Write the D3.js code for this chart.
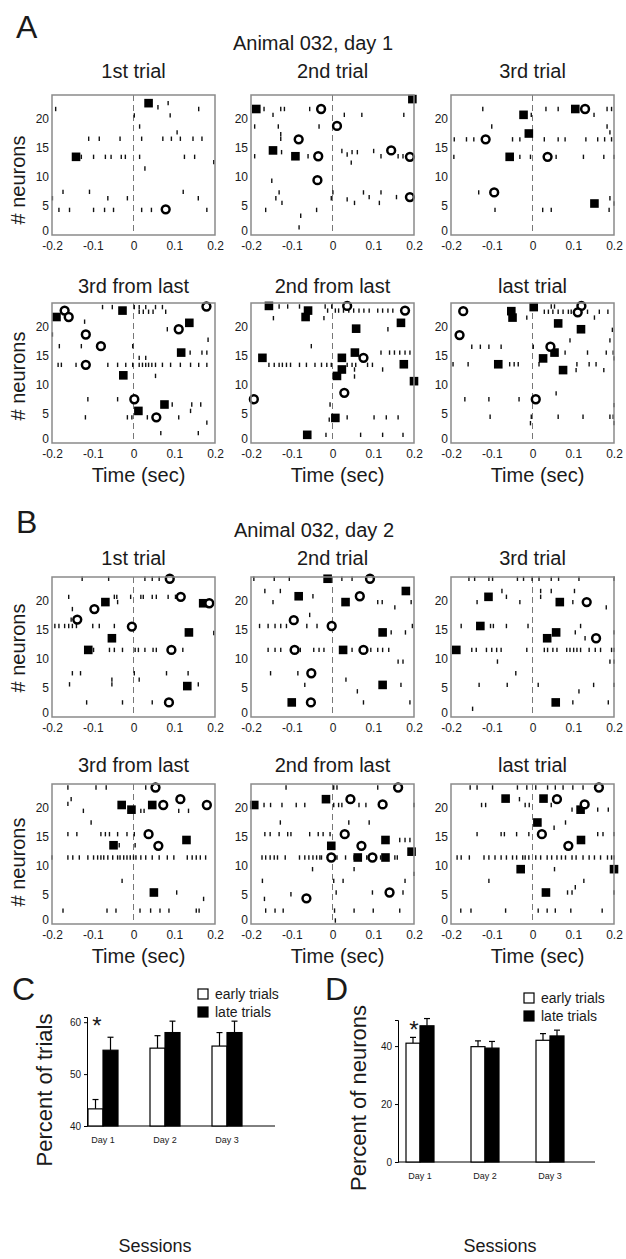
<!DOCTYPE html>
<html>
<head>
<meta charset="utf-8">
<title>Animal 032 rasters</title>
<script src="https://cdn.jsdelivr.net/npm/d3@7"></script>
<style>
body { margin: 0; background: #fff; }
svg text { font-family: "Liberation Sans", Arial, sans-serif; fill: #1a1a1a; }
</style>
</head>
<body>
<div id="chart"></div>
<script>
// ---- data ----
var timeTicks = [-0.2, -0.1, 0, 0.1, 0.2],
    neuronTicks = [0, 5, 10, 15, 20];

var titlesTop = ["1st trial", "2nd trial", "3rd trial"],
    titlesBottom = ["3rd from last", "2nd from last", "last trial"];

// spikes: [neuron, [times...]], squares / circles: [time, neuron]
var a1Spikes = [[21.6,[-0.191,0.160]],[21.9,[0.060]],[22.6,[0.085]],[20.5,[0.090,0.002]],[18.6,[0.015]],[17.6,[0.107]],
  [16.5,[-0.110,-0.084,-0.033,0.020,0.072,0.093,0.115,0.146,0.168]],
  [13.4,[-0.128,-0.098,-0.069,-0.055,-0.030,-0.020,0.015,0.125,0.150]],[12.5,[0.197]],[11.4,[0.028]],
  [7.4,[-0.173,-0.108,0.122]],[6.3,[-0.199,-0.063,-0.015,0.159]],
  [4.3,[-0.183,-0.157,-0.098,-0.071,-0.049,0.020,0.044,0.180]]];
var a1Squares = [[0.037,22.6],[-0.141,13.4]];
var a1Circles = [[0.079,4.4]];

var a2Spikes = [[21.6,[-0.168,-0.127,-0.118,-0.056]],[20.6,[-0.146,0.029,0.072,0.175]],[18.6,[-0.191,-0.133,-0.033]],
  [17.3,[-0.127]],[16.5,[-0.127]],[14.2,[-0.125,0.048,0.061]],[14.4,[0.023,0.101]],[13.8,[0.036]],
  [13.5,[-0.191,-0.060,0.119,0.161,0.173]],[12.4,[0.046]],[9.3,[-0.149]],[7.3,[-0.131,0.001,0.076,0.119]],
  [6.5,[0.090,0.157]],[6.3,[-0.139,-0.003]],[6.1,[0.036]],[5.5,[-0.124,0.054,0.115]],[4.3,[-0.164,-0.039]],
  [3.3,[-0.078]],[1.3,[-0.082]]];
var a2Squares = [[-0.187,21.6],[-0.146,14.5],[-0.091,13.5],[0.196,23.3]];
var a2Circles = [[-0.028,21.6],[0.011,18.7],[-0.083,16.4],[-0.035,13.5],[-0.037,9.4],[0.144,14.5],[0.190,13.4],[0.190,6.5]];

var a3Spikes = [[21.6,[-0.122,0.033,0.063,0.183,0.194]],[20.6,[-0.003,0.151]],[18.6,[-0.100,0.183]],[17.6,[0.190]],
  [16.4,[-0.192,-0.162,-0.144,-0.049,-0.031,0.029,0.063,0.080,0.131,0.160,0.177,0.194]],
  [13.4,[-0.193,-0.031,-0.005,0.058,0.125,0.175,0.200]],[7.3,[-0.132]],[6.3,[0.190]],[5.4,[0.200]],
  [4.3,[-0.092,0.025,0.046,0.188]]];
var a3Squares = [[-0.022,20.6],[-0.009,17.4],[-0.056,13.4],[0.105,21.6],[0.152,5.4]];
var a3Circles = [[0.129,21.6],[-0.115,16.4],[0.037,13.4],[-0.094,7.3]];

var a4Spikes = [[23.3,[-0.076,-0.052,0.002,0.014,0.030,0.054,0.071]],[22.5,[0.014,0.024,0.037,0.048,0.079]],
  [20.8,[-0.120]],[19.5,[0.083]],[18.6,[-0.199]],[17.7,[0.183]],[16.6,[-0.182,-0.128,-0.002]],
  [15.5,[0.139,0.168,0.180]],[14.6,[0.014,0.030]],
  [13.4,[-0.185,-0.177,-0.141,-0.063,-0.039,-0.019,-0.002,0.014,0.022,0.030,0.037,0.045,0.054,0.071,0.091,0.115,0.140,0.160,0.180]],
  [11.5,[0.054]],[7.5,[-0.112,-0.039]],[6.6,[0.095,0.143,0.165]],[5.5,[0.140]],
  [4.4,[-0.118,-0.015,-0.004,0.034,0.111]],[3.5,[0.180]],[1.7,[0.067,0.159]]];
var a4Squares = [[-0.189,21.6],[-0.027,22.7],[0.137,20.6],[0.117,15.5],[-0.025,11.6],[0.012,5.5],[0.076,6.6]];
var a4Circles = [[-0.169,22.7],[-0.159,21.6],[0.179,23.4],[0.111,19.5],[-0.117,18.6],[-0.080,16.6],[-0.117,13.4],[0.002,7.5],[0.056,4.4]];

var a5Spikes = [[23.4,[-0.131,-0.110,-0.081,-0.018,-0.002]],
  [22.7,[-0.012,0.007,0.015,0.027,0.040,0.052,0.065,0.077,0.090,0.111,0.123,0.136,0.148]],
  [21.4,[-0.145,-0.021]],[19.5,[0.136]],[16.6,[-0.052]],[15.5,[0.119,0.140,0.152,0.165,0.178,0.190]],
  [13.4,[-0.156,-0.143,-0.131,-0.123,-0.113,-0.103,-0.081,-0.064,-0.043,-0.027,-0.014,-0.003,0.036,0.048,0.057,0.086,0.098]],
  [12.6,[0.054,0.123]],[11.4,[0.054]],[6.6,[-0.006]],[4.4,[0.036,0.102,0.132,0.161]],[4.0,[-0.008]],
  [1.4,[-0.016,0.069,0.123,0.173]]];
var a5Squares = [[-0.156,23.5],[-0.060,22.7],[-0.066,21.6],[0.058,19.6],[0.168,20.6],[-0.172,14.6],[0.055,15.5],
  [0.023,14.6],[0.023,12.6],[0.011,11.5],[0.200,10.6],[0.007,4.3],[-0.062,1.4],[0.175,13.5]];
var a5Circles = [[0.036,23.5],[0.178,22.7],[0.076,14.6],[0.029,8.6],[-0.193,7.5]];

var a6Spikes = [[23.4,[0.046,0.054]],[22.5,[0.029,0.039,0.050,0.063,0.075,0.088,0.095,0.105,0.135,0.164,0.185]],
  [21.5,[-0.014,0.152]],[19.4,[0.196]],[17.6,[0.092,0.190]],[16.5,[-0.149,-0.128,-0.107,-0.077,0.002]],
  [15.5,[0.080,0.135,0.181,0.198]],[14.5,[0.200]],
  [13.5,[-0.195,-0.158,-0.056,-0.045,-0.035,0.016,0.109,0.139,0.156]],[12.5,[0.107,0.175]],[8.5,[0.058]],
  [7.5,[-0.166,-0.107,-0.033]],[6.5,[0.200]],[4.5,[-0.104,-0.003,0.063,0.124,0.190,0.198]],[3.4,[-0.005,0.200]]];
var a6Squares = [[0.003,23.3],[-0.052,22.6],[-0.049,21.5],[0.063,20.5],[0.119,19.5],[0.026,14.5],[0.054,15.5],[-0.084,13.5],[0.075,12.5]];
var a6Circles = [[-0.170,22.6],[-0.179,18.5],[0.120,23.5],[0.111,22.4],[0.044,16.5],[0.008,7.5]];

var b1Spikes = [[23.7,[-0.126,-0.061,0.028,0.046,0.063]],
  [20.6,[-0.159,-0.047,-0.041,-0.007,0.018,0.024,0.046,0.056,0.085,0.103]],[19.7,[-0.039]],[18.5,[-0.150]],
  [16.7,[-0.153]],[15.6,[-0.193,-0.183,-0.169,-0.159,-0.150,-0.140,-0.100,-0.084,-0.047]],[14.4,[0.197]],
  [11.5,[-0.098,-0.059,-0.047,-0.027,0.004,0.012,0.028,0.048,0.056,0.121]],
  [7.5,[-0.150,-0.130,0.002,0.081,0.134]],[6.4,[-0.053,0.014]],[5.6,[-0.157,-0.053,0.159]],[2.5,[-0.115,-0.027,0.046]]];
var b1Squares = [[-0.069,19.7],[-0.053,13.5],[-0.111,11.5],[0.136,14.5],[0.132,5.3],[0.171,19.5]];
var b1Circles = [[0.089,23.7],[0.116,20.6],[-0.096,18.5],[-0.138,16.7],[-0.004,15.5],[0.093,11.5],[0.087,2.5],[0.186,19.5]];

var b2Spikes = [[23.7,[-0.193,-0.143,-0.106,0.023,0.048]],[21.6,[-0.166,-0.128]],[20.7,[-0.048]],
  [19.7,[-0.146,0.111,0.122,0.193]],[18.8,[0.153]],[17.5,[-0.056]],
  [15.6,[-0.179,-0.158,-0.141,-0.127,-0.113,-0.063,-0.038,0.196]],[14.5,[0.144,0.179]],
  [11.5,[-0.158,-0.141,-0.127,-0.079,-0.046,-0.033,-0.021,0.048,0.094,0.111,0.123,0.138]],
  [9.5,[0.161,0.173]],[7.5,[-0.152,-0.085]],[6.4,[0.033]],[5.5,[-0.068,0.168]],[4.4,[0.061]],[2.5,[0.076,0.190]]];
var b2Squares = [[-0.012,23.7],[-0.083,20.7],[0.032,19.7],[0.180,21.6],[0.123,14.5],[0.026,11.5],[0.123,5.5],[-0.100,2.5]];
var b2Circles = [[0.092,23.7],[0.067,20.7],[-0.095,16.6],[-0.002,15.6],[-0.093,11.5],[0.076,11.5],[-0.052,7.5],[-0.053,2.5]];

var b3Spikes = [[23.7,[-0.156,-0.142,-0.107,-0.098,-0.037,-0.022,-0.001,0.016,0.046,0.064,0.114,0.200]],
  [21.6,[-0.075,0.020,0.046,0.103]],[20.6,[-0.064,0.020]],[19.7,[-0.136,-0.031,0.099]],[18.8,[0.181]],
  [15.6,[-0.175,-0.103,-0.096,-0.064,-0.011,0.118]],[14.5,[0.105,0.200]],[13.5,[0.129]],
  [11.5,[-0.149,-0.138,-0.113,-0.100,-0.088,-0.077,-0.014,0.029,0.037,0.050,0.060,0.084,0.092,0.101,0.109,0.118,0.139,0.154,0.167,0.194,0.200]],
  [9.5,[-0.086,0.190,0.200]],[7.5,[-0.041]],[5.5,[-0.131,-0.062,0.014,0.150,0.200]],[4.4,[0.114]],
  [2.5,[0.099,0.186]],[1.4,[-0.147]]];
var b3Squares = [[-0.187,11.5],[-0.108,20.6],[-0.128,15.6],[0.067,19.7],[0.058,14.5],[0.036,13.5],[0.057,2.5]];
var b3Circles = [[0.133,19.7],[0.156,13.5]];

var b4Spikes = [[23.4,[-0.161,-0.092,-0.067,0.030,0.046]],[21.4,[-0.153]],[20.6,[-0.161]],
  [19.4,[-0.123,0.018,0.026,0.111,0.135]],[17.4,[-0.104]],
  [15.4,[-0.161,-0.139,-0.080,-0.069,-0.059,-0.039,-0.016,0.002]],[13.5,[-0.035,0.004]],
  [11.4,[-0.200,-0.161,-0.149,-0.133,-0.112,-0.098,-0.088,-0.080,-0.073,-0.063,-0.051,-0.039,-0.033,-0.024,-0.016,-0.008,0.000,0.006,0.018,0.030,0.046,0.063,0.083,0.099,0.132,0.144,0.154,0.164,0.177]],
  [7.4,[-0.028]],[5.4,[0.106]],[4.3,[0.172]],[2.3,[-0.173,-0.065,-0.043,0.016,0.042,0.065,0.087,0.154,0.161]]];
var b4Squares = [[-0.029,20.4],[-0.005,19.6],[0.046,20.4],[-0.049,13.5],[0.130,14.4],[0.050,5.4]];
var b4Circles = [[0.054,23.4],[0.073,20.4],[0.115,21.4],[0.180,20.4],[0.037,15.4],[0.061,13.4]];

var b5Spikes = [[23.4,[-0.114,0.003,0.011,0.111]],
  [20.4,[-0.168,-0.152,-0.124,-0.089,-0.068,0.003,0.015,0.023,0.065,0.082,0.200]],[17.4,[-0.128,0.040,0.090]],
  [15.4,[-0.166,-0.153,-0.131,-0.110,-0.102,-0.056,-0.035,-0.023,-0.006]],[14.4,[0.165,0.178,0.190]],
  [11.4,[-0.173,-0.164,-0.153,-0.143,-0.135,-0.116,-0.081,-0.068,-0.058,-0.048,-0.039,-0.031,-0.027,0.011,0.032,0.053,0.084,0.118,0.153,0.159]],
  [9.4,[-0.049,0.053]],[8.6,[0.200]],[7.4,[-0.172,0.003,0.026,0.178]],[5.4,[0.009,0.098,0.173]],[5.1,[-0.102]],
  [4.3,[-0.167]],[2.3,[-0.164,-0.141,-0.121,0.005,0.053,0.100,0.165]],[0.6,[0.007]]];
var b5Squares = [[-0.192,20.4],[-0.016,21.4],[-0.003,13.4],[0.062,11.4],[0.130,11.4],[0.130,14.4],[0.194,12.4]];
var b5Circles = [[0.044,21.4],[0.123,20.5],[0.161,23.4],[0.030,15.4],[0.071,13.4],[-0.003,11.4],[0.098,11.4],[0.140,5.4],[-0.064,4.4]];

var b6Spikes = [[23.4,[-0.153,-0.136,-0.098,-0.037,-0.014,0.008,0.037,0.056,0.075,0.099,0.124]],[21.4,[-0.032]],
  [20.4,[-0.125,-0.115,-0.018,-0.008,0.046]],[19.6,[0.097,0.160,0.186]],[17.4,[0.081]],[16.5,[0.053]],
  [15.4,[-0.136,-0.077,-0.069,-0.039,-0.009,0.160,0.173,0.200]],
  [11.4,[-0.185,-0.175,-0.155,-0.119,-0.107,-0.092,-0.077,-0.064,-0.049,-0.039,-0.024,-0.018,-0.009,0.008,0.020,0.036,0.047,0.060,0.071,0.081,0.097,0.107,0.124,0.139,0.152,0.167,0.184,0.194,0.200]],
  [9.4,[0.054]],[7.4,[-0.107,0.126]],[6.3,[0.105]],[5.4,[0.086,0.097,0.200]],
  [2.3,[-0.176,-0.151,-0.066,0.014,0.036,0.056,0.094,0.171]]];
var b6Squares = [[-0.066,21.5],[0.027,21.5],[0.118,19.6],[0.012,17.4],[0.119,14.4],[-0.029,9.4],[0.033,5.4],[0.200,9.4]];
var b6Circles = [[0.163,23.4],[0.060,21.4],[0.128,20.5],[0.023,15.4],[0.088,13.4]];

// bar charts (C, D)
var days = ["Day 1", "Day 2", "Day 3"];
var trialsEarly = [43.3, 55.0, 55.4],
    trialsEarlyErr = [1.8, 2.4, 2.6],
    trialsLate = [54.6, 58.0, 58.0],
    trialsLateErr = [2.5, 2.2, 2.2];
var neuronsEarly = [41.0, 39.8, 42.0],
    neuronsEarlyErr = [2.0, 2.0, 2.3],
    neuronsLate = [47.0, 39.3, 43.5],
    neuronsLateErr = [2.5, 2.3, 2.0];

// ---- layout ----
var W = 626, H = 1259;
var colX = [52, 251, 451],
    rowTop = [95, 303, 577, 784],
    panelW = 163, panelH = 140;

var svg = d3.select('#chart').append('svg')
    .attr('width', W)
    .attr('height', H);

var panels = [
  {row: 0, col: 0, title: titlesTop[0], spikes: a1Spikes, squares: a1Squares, circles: a1Circles},
  {row: 0, col: 1, title: titlesTop[1], spikes: a2Spikes, squares: a2Squares, circles: a2Circles},
  {row: 0, col: 2, title: titlesTop[2], spikes: a3Spikes, squares: a3Squares, circles: a3Circles},
  {row: 1, col: 0, title: titlesBottom[0], spikes: a4Spikes, squares: a4Squares, circles: a4Circles},
  {row: 1, col: 1, title: titlesBottom[1], spikes: a5Spikes, squares: a5Squares, circles: a5Circles},
  {row: 1, col: 2, title: titlesBottom[2], spikes: a6Spikes, squares: a6Squares, circles: a6Circles},
  {row: 2, col: 0, title: titlesTop[0], spikes: b1Spikes, squares: b1Squares, circles: b1Circles},
  {row: 2, col: 1, title: titlesTop[1], spikes: b2Spikes, squares: b2Squares, circles: b2Circles},
  {row: 2, col: 2, title: titlesTop[2], spikes: b3Spikes, squares: b3Squares, circles: b3Circles},
  {row: 3, col: 0, title: titlesBottom[0], spikes: b4Spikes, squares: b4Squares, circles: b4Circles},
  {row: 3, col: 1, title: titlesBottom[1], spikes: b5Spikes, squares: b5Squares, circles: b5Circles},
  {row: 3, col: 2, title: titlesBottom[2], spikes: b6Spikes, squares: b6Squares, circles: b6Circles}
];

var titleBase = [78, 293, 565, 772],
    yLabelMid = [180, 376, 648, 862];

var x = d3.scaleLinear().domain([-0.2, 0.2]).range([0, panelW]);
var y = d3.scaleLinear().domain([0, 24]).range([panelH, 0]);

panels.forEach(function(p) {
    var g = svg.append('g')
        .attr('transform', 'translate(' + [colX[p.col], rowTop[p.row]] + ')');

    // axes (labels only, MATLAB style)
    var yAxis = d3.axisLeft(y).tickValues(neuronTicks).tickSize(0).tickPadding(3);
    var xAxis = d3.axisBottom(x).tickValues(timeTicks).tickSize(0).tickPadding(6)
        .tickFormat(d => String(d));

    g.append('g').attr('class', 'y axis').call(yAxis)
        .call(function(s) { s.select('.domain').remove(); })
        .selectAll('text').style('font-size', '12px').attr('fill', '#333')
        .attr('dy', d => d === 0 ? '-0.05em' : '0.32em');
    g.append('g').attr('class', 'x axis')
        .attr('transform', 'translate(0,' + panelH + ')')
        .call(xAxis)
        .call(function(s) { s.select('.domain').remove(); })
        .selectAll('text').style('font-size', '12px').attr('fill', '#333');

    // dashed line at t = 0
    g.append('line')
        .attr('x1', x(0)).attr('x2', x(0))
        .attr('y1', 0).attr('y2', panelH)
        .attr('stroke', '#777')
        .attr('stroke-width', 1)
        .attr('stroke-dasharray', '6,4');

    // spikes
    var flat = [];
    p.spikes.forEach(function(r) { r[1].forEach(function(t) { flat.push([t, r[0]]); }); });
    g.selectAll('.spike')
        .data(flat)
      .enter().append('line')
        .attr('class', 'spike')
        .attr('x1', d => x(d[0])).attr('x2', d => x(d[0]))
        .attr('y1', d => y(d[1]) - 2.2).attr('y2', d => y(d[1]) + 2.2)
        .attr('stroke', '#111')
        .attr('stroke-width', 1.4);

    // filled squares
    g.selectAll('.sq')
        .data(p.squares)
      .enter().append('rect')
        .attr('class', 'sq')
        .attr('x', d => x(d[0]) - 4.3)
        .attr('y', d => y(d[1]) - 4.3)
        .attr('width', 8.6).attr('height', 8.6)
        .attr('fill', '#000');

    // open circles
    g.selectAll('.circ')
        .data(p.circles)
      .enter().append('circle')
        .attr('class', 'circ')
        .attr('cx', d => x(d[0]))
        .attr('cy', d => y(d[1]))
        .attr('r', 3.9)
        .attr('fill', '#fff')
        .attr('stroke', '#000')
        .attr('stroke-width', 2.5);

    // frame
    g.append('rect')
        .attr('width', panelW).attr('height', panelH)
        .attr('fill', 'none')
        .attr('stroke', '#8a8a8a')
        .attr('stroke-width', 1.5);

    // title
    svg.append('text')
        .attr('x', colX[p.col] + panelW / 2)
        .attr('y', titleBase[p.row])
        .attr('text-anchor', 'middle')
        .style('font-size', '20px')
        .text(p.title);

    // y label on left column
    if (p.col == 0) {
        svg.append('text')
            .attr('transform', 'translate(25,' + yLabelMid[p.row] + ') rotate(-90)')
            .attr('text-anchor', 'middle')
            .style('font-size', '20px')
            .text('# neurons');
    }
    // x label on bottom rows
    if (p.row == 1 || p.row == 3) {
        svg.append('text')
            .attr('x', colX[p.col] + panelW / 2 + 5)
            .attr('y', rowTop[p.row] + panelH + 39)
            .attr('text-anchor', 'middle')
            .style('font-size', '20px')
            .text('Time (sec)');
    }
});

// figure headers
svg.append('text').attr('x', 16).attr('y', 38).style('font-size', '32px').text('A');
svg.append('text').attr('x', 16).attr('y', 533).style('font-size', '32px').text('B');
svg.append('text').attr('x', 313).attr('y', 50).attr('text-anchor', 'middle')
    .style('font-size', '20px').text('Animal 032, day 1');
svg.append('text').attr('x', 314).attr('y', 537).attr('text-anchor', 'middle')
    .style('font-size', '20px').text('Animal 032, day 2');

// ---- bar charts ----
function barChart(opt) {
    var g = svg.append('g');
    var yb = d3.scaleLinear().domain(opt.domain).range([opt.bottom, opt.top]);
    var xb = d3.scalePoint().domain(days).range(opt.xRange);
    var bw = opt.barW;

    var yAxis = d3.axisLeft(yb).tickValues(opt.ticks).tickSize(3).tickPadding(3);
    g.append('g')
        .attr('transform', 'translate(' + opt.axisX + ',0)')
        .call(yAxis)
        .call(function(s) { s.selectAll('text').style('font-size', '10px'); });
    // baseline
    g.append('line')
        .attr('x1', opt.axisX).attr('x2', opt.axisRight)
        .attr('y1', opt.bottom).attr('y2', opt.bottom)
        .attr('stroke', '#000');

    var series = [
        {vals: opt.early, errs: opt.earlyErr, fill: '#fff', off: -bw},
        {vals: opt.late, errs: opt.lateErr, fill: '#000', off: 0}
    ];
    series.forEach(function(s) {
        days.forEach(function(d, i) {
            var bx = xb(d) + s.off;
            g.append('line')
                .attr('x1', bx + bw / 2).attr('x2', bx + bw / 2)
                .attr('y1', yb(s.vals[i])).attr('y2', yb(s.vals[i] + s.errs[i]))
                .attr('stroke', '#000').attr('stroke-width', 1.2);
            g.append('line')
                .attr('x1', bx + bw / 2 - 3).attr('x2', bx + bw / 2 + 3)
                .attr('y1', yb(s.vals[i] + s.errs[i])).attr('y2', yb(s.vals[i] + s.errs[i]))
                .attr('stroke', '#000').attr('stroke-width', 1.2);
            g.append('rect')
                .attr('x', bx).attr('y', yb(s.vals[i]))
                .attr('width', bw).attr('height', opt.bottom - yb(s.vals[i]))
                .attr('fill', s.fill)
                .attr('stroke', '#000').attr('stroke-width', 1.2);
        });
    });

    // day labels
    g.selectAll('.day')
        .data(days)
      .enter().append('text')
        .attr('x', d => xb(d))
        .attr('y', opt.bottom + 17)
        .attr('text-anchor', 'middle')
        .style('font-size', '9px')
        .text(d => d);

    // star
    g.append('text')
        .attr('x', xb(days[0]) - 6).attr('y', opt.starY)
        .attr('text-anchor', 'middle')
        .style('font-size', '24px')
        .text('*');

    // legend
    [['early trials', '#fff'], ['late trials', '#000']].forEach(function(l, i) {
        g.append('rect')
            .attr('x', opt.legX).attr('y', opt.legY + i * 18 - 10)
            .attr('width', 10).attr('height', 10)
            .attr('fill', l[1]).attr('stroke', '#000').attr('stroke-width', 1.2);
        g.append('text')
            .attr('x', opt.legX + 17).attr('y', opt.legY + i * 18)
            .style('font-size', '14px')
            .text(l[0]);
    });

    g.append('text')
        .attr('transform', 'translate(' + opt.ylabX + ',' + opt.ylabY + ') rotate(-90)')
        .attr('text-anchor', 'middle')
        .style('font-size', '22px')
        .text(opt.ylabel);
    g.append('text')
        .attr('x', opt.sessX).attr('y', 1252)
        .attr('text-anchor', 'middle')
        .style('font-size', '18px')
        .text('Sessions');
    g.append('text')
        .attr('x', opt.letterX).attr('y', 1000)
        .style('font-size', '32px')
        .text(opt.letter);
}

barChart({
    letter: 'C', letterX: 12,
    domain: [40, 61], ticks: [40, 50, 60],
    bottom: 1126, top: 1017,
    axisX: 87, axisRight: 275,
    xRange: [103, 227], barW: 15,
    early: trialsEarly, earlyErr: trialsEarlyErr,
    late: trialsLate, lateErr: trialsLateErr,
    starY: 1034, legX: 198, legY: 999,
    ylabel: 'Percent of trials', ylabX: 52, ylabY: 1090,
    sessX: 155
});
barChart({
    letter: 'D', letterX: 325,
    domain: [0, 49], ticks: [0, 20, 40],
    bottom: 1162, top: 1020,
    axisX: 398, axisRight: 595,
    xRange: [420, 550], barW: 14,
    early: neuronsEarly, earlyErr: neuronsEarlyErr,
    late: neuronsLate, lateErr: neuronsLateErr,
    starY: 1038, legX: 524, legY: 1003,
    ylabel: 'Percent of neurons', ylabX: 366, ylabY: 1098,
    sessX: 500
});
</script>
</body>
</html>
